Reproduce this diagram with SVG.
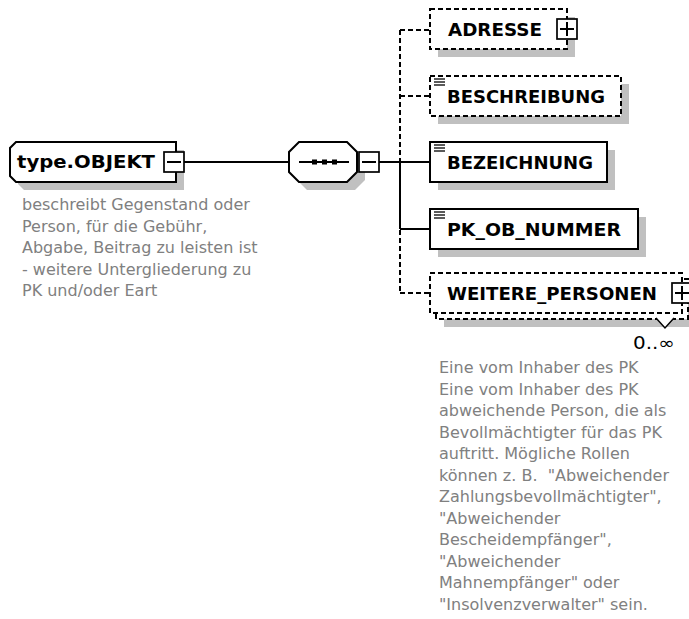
<svg xmlns="http://www.w3.org/2000/svg" width="689" height="619" viewBox="0 0 689 619">
<style>
.bg{fill:#fff}
.box{fill:#fff;stroke:#000;stroke-width:2}
.dash{stroke-dasharray:5 3}
.shadow{fill:#c0c0c0}
.ln{stroke:#000;stroke-width:2;fill:none}
.lbl{font-family:"DejaVu Sans",sans-serif;font-weight:bold;font-size:17px;fill:#000}
.desc{font-family:"DejaVu Sans",sans-serif;font-size:16px;fill:#808080}
.card{font-family:"DejaVu Sans",sans-serif;font-size:17px;fill:#000}
.ico{stroke:#000;stroke-width:1.3}
.pm{fill:#fff;stroke:#000;stroke-width:1.7}
</style>
<defs>
<g id="simpleIcon"><line class="ico" x1="0" y1="0" x2="11" y2="0"/><line class="ico" x1="0" y1="3" x2="11" y2="3"/><line class="ico" x1="0" y1="6" x2="11" y2="6"/></g>
<g id="minus"><rect class="pm" x="0" y="0" width="20" height="20"/><line class="ln" x1="3" y1="10" x2="17" y2="10" stroke-width="1.7"/></g>
<g id="plus"><rect class="pm" x="0" y="0" width="20" height="20"/><line class="ln" x1="3" y1="10" x2="17" y2="10" stroke-width="1.7"/><line class="ln" x1="10" y1="3" x2="10" y2="17" stroke-width="1.7"/></g>
</defs>
<rect class="bg" x="0" y="0" width="689" height="619"/>

<g id="connectors">
<line class="ln" x1="184" y1="162" x2="289" y2="162"/>
<line class="ln" x1="378" y1="162" x2="430" y2="162"/>
<line class="ln dash" x1="400" y1="30" x2="400" y2="293"/>
<line class="ln" x1="400" y1="162" x2="400" y2="229"/>
<line class="ln dash" x1="400" y1="30" x2="430" y2="30"/>
<line class="ln dash" x1="400" y1="96" x2="430" y2="96"/>
<line class="ln" x1="400" y1="229" x2="430" y2="229"/>
<line class="ln dash" x1="400" y1="293" x2="430" y2="293"/>
</g>

<g id="type-objekt">
<path class="shadow" d="M24,150 H184 V190 H24 L18,184 V156 Z"/>
<path class="box" d="M16,142 H176 V182 H16 L10,176 V148 Z"/>
<text class="lbl" x="17" y="168" textLength="138" lengthAdjust="spacingAndGlyphs">type.OBJEKT</text>
<use href="#minus" x="164" y="152"/>
<text class="desc"><tspan x="22" y="210">beschreibt Gegenstand oder</tspan><tspan x="22" dy="21.5">Person, für die Gebühr,</tspan><tspan x="22" dy="21.5">Abgabe, Beitrag zu leisten ist</tspan><tspan x="22" dy="21.5">- weitere Untergliederung zu</tspan><tspan x="22" dy="21.5">PK und/oder Eart</tspan></text>
</g>

<g id="sequence">
<path class="shadow" d="M307,150 H355 L365,160 V180 L355,190 H307 L297,180 V160 Z"/>
<path class="box" d="M299,142 H347 L357,152 V172 L347,182 H299 L289,172 V152 Z"/>
<line class="ln" x1="299" y1="162" x2="349" y2="162"/>
<rect x="312" y="159.5" width="5" height="5" fill="#000"/>
<rect x="322" y="159.5" width="5" height="5" fill="#000"/>
<rect x="332" y="159.5" width="5" height="5" fill="#000"/>
<use href="#minus" x="359" y="152"/>
</g>

<g id="adresse">
<rect class="shadow" x="438" y="17" width="137" height="40"/>
<rect class="box dash" x="430" y="9" width="137" height="40"/>
<text class="lbl" x="448" y="36" textLength="94" lengthAdjust="spacingAndGlyphs">ADRESSE</text>
<use href="#plus" x="557" y="19"/>
</g>

<g id="beschreibung">
<rect class="shadow" x="438" y="84" width="191" height="40"/>
<rect class="box dash" x="430" y="76" width="191" height="40"/>
<use href="#simpleIcon" x="434" y="79"/>
<text class="lbl" x="447" y="103" textLength="158" lengthAdjust="spacingAndGlyphs">BESCHREIBUNG</text>
</g>

<g id="bezeichnung">
<rect class="shadow" x="438" y="150" width="177" height="40"/>
<rect class="box" x="430" y="142" width="177" height="40"/>
<use href="#simpleIcon" x="434" y="145"/>
<text class="lbl" x="447" y="169" textLength="146" lengthAdjust="spacingAndGlyphs">BEZEICHNUNG</text>
</g>

<g id="pk-ob-nummer">
<rect class="shadow" x="438" y="217" width="208" height="40"/>
<rect class="box" x="430" y="209" width="208" height="40"/>
<use href="#simpleIcon" x="434" y="212"/>
<text class="lbl" x="447" y="236" textLength="174" lengthAdjust="spacingAndGlyphs">PK_OB_NUMMER</text>
</g>

<g id="weitere-personen">
<rect class="shadow" x="444" y="287" width="252" height="40"/>
<rect class="box dash" x="436" y="279" width="252" height="40"/>
<rect class="box dash" x="430" y="273" width="252" height="40"/>
<text class="lbl" x="447" y="300" textLength="210" lengthAdjust="spacingAndGlyphs">WEITERE_PERSONEN</text>
<use href="#plus" x="672" y="283"/>
<polyline points="656,318 665,328 674,318" fill="#fff" stroke="#000" stroke-width="1.5"/>
<text class="card" x="633" y="349" textLength="42" lengthAdjust="spacingAndGlyphs">0..∞</text>
<text class="desc" xml:space="preserve"><tspan x="439" y="373">Eine vom Inhaber des PK</tspan><tspan x="439" dy="21.5">Eine vom Inhaber des PK</tspan><tspan x="439" dy="21.5">abweichende Person, die als</tspan><tspan x="439" dy="21.5">Bevollmächtigter für das PK</tspan><tspan x="439" dy="21.5">auftritt. Mögliche Rollen</tspan><tspan x="439" dy="21.5">können z. B.  "Abweichender</tspan><tspan x="439" dy="21.5">Zahlungsbevollmächtigter",</tspan><tspan x="439" dy="21.5">"Abweichender</tspan><tspan x="439" dy="21.5">Bescheidempfänger",</tspan><tspan x="439" dy="21.5">"Abweichender</tspan><tspan x="439" dy="21.5">Mahnempfänger" oder</tspan><tspan x="439" dy="21.5">"Insolvenzverwalter" sein.</tspan></text>
</g>
</svg>
